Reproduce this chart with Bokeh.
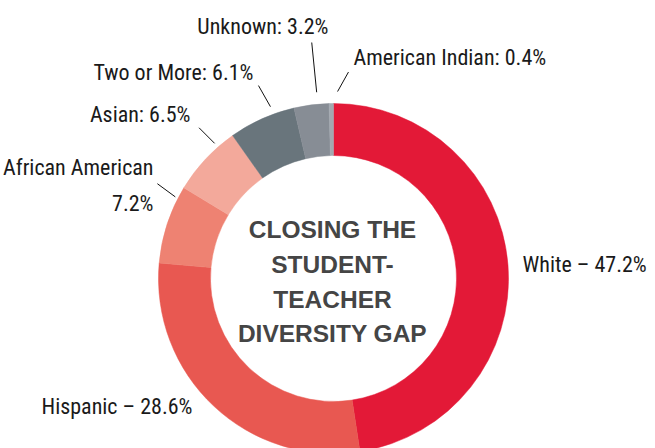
import math
from bokeh.plotting import figure
from bokeh.models import Range1d, ColumnDataSource
from bokeh.core.properties import value
from bokeh.embed import file_html
from bokeh.resources import INLINE

# ---- data ----
categories = ["White", "Hispanic", "African American", "Asian",
              "Two or More", "Unknown", "American Indian"]
percents = [47.2, 28.6, 7.2, 6.5, 6.1, 3.2, 0.4]
colors = ["#E31937", "#E85851", "#EE8272", "#F3A99B",
          "#69757C", "#878D95", "#A3A9B0"]
center_lines = ["CLOSING THE", "STUDENT-", "TEACHER", "DIVERSITY GAP"]

# ---- layout ----
W, H = 655, 448
CX, CY = 333, 278          # donut centre (pixels from top-left)
R_OUT, R_IN = 175, 123
LABEL_FONT = "Roboto Condensed, Open Sans Condensed, DejaVu Sans Condensed"
LABEL_SIZE = "22px"

# label anchors: (x, middle y, align, separator)
label_layout = {
    "White": (522, 264, "left", " – "),
    "Hispanic": (192, 406, "right", " – "),
    "African American": (153, 167, "right", "\n"),
    "Asian": (190, 114, "right", ": "),
    "Two or More": (253, 72, "right", ": "),
    "Unknown": (328, 26, "right", ": "),
    "American Indian": (353, 57, "left", ": "),
}
LINE_GAP = 36
# leader lines: (fraction within slice, inner radius, outer angle offset deg, outer radius)
leader_layout = {
    "African American": (0.85, 178, 1.0, 200),
    "Asian": (0.74, 180, -0.4, 202),
    "Two or More": (0.68, 183, -1.1, 207),
    "Unknown": (0.68, 187, -0.1, 237),
    "American Indian": (1.86, 187, 2.9, 207),
}

total = sum(percents)
starts, ends = [], []
acc = 0.0
for v in percents:
    starts.append(acc / total * 360.0)
    acc += v
    ends.append(acc / total * 360.0)


def to_xy(theta_deg, r):
    t = math.radians(theta_deg)
    return CX + r * math.sin(t), H - (CY - r * math.cos(t))


p = figure(width=W, height=H, x_range=Range1d(0, W), y_range=Range1d(0, H),
           toolbar_location=None, output_backend="svg", min_border=0)
p.axis.visible = False
p.grid.visible = False
p.outline_line_color = None
p.background_fill_color = "white"
p.border_fill_color = "white"

src = ColumnDataSource(dict(
    x=[CX] * len(percents), y=[H - CY] * len(percents),
    start=[math.pi / 2 - math.radians(e) for e in ends],
    end=[math.pi / 2 - math.radians(s) for s in starts],
    color=colors, cat=categories))
p.annular_wedge(x="x", y="y", inner_radius=R_IN, outer_radius=R_OUT,
                start_angle="start", end_angle="end", direction="anticlock",
                fill_color="color", line_color="color", line_width=0.5,
                source=src)

# leader lines
xs, ys = [], []
for i, c in enumerate(categories):
    if c not in leader_layout:
        continue
    frac, rin, doff, rout = leader_layout[c]
    th = starts[i] + frac * (ends[i] - starts[i])
    x0, y0 = to_xy(th, rin)
    x1, y1 = to_xy(th + doff, rout)
    xs.append([x0, x1])
    ys.append([y0, y1])
p.multi_line(xs=xs, ys=ys, line_color="#111111", line_width=1)

# labels
tx, ty, tt, ta = [], [], [], []
for i, c in enumerate(categories):
    x, ym, align, sep = label_layout[c]
    text = f"{c}{sep}{percents[i]}%"
    for k, line in enumerate(text.split("\n")):
        tx.append(x)
        ty.append(H - (ym + k * LINE_GAP))
        tt.append(line)
        ta.append(align)
lsrc = ColumnDataSource(dict(x=tx, y=ty, text=tt, align=ta))
p.text(x="x", y="y", text="text", text_align="align", text_baseline="middle",
       text_font=value(LABEL_FONT), text_font_size=LABEL_SIZE,
       text_color="#1a1a1a", source=lsrc)

# centre title
cy_mid = [229, 264, 299, 333]
p.text(x=[CX - 1] * 4, y=[H - m for m in cy_mid], text=center_lines,
       text_align="center", text_baseline="middle",
       text_font=value("Liberation Sans"), text_font_style="bold",
       text_font_size="24.5px", text_color="#454545")

open("out.html", "w").write(file_html(p, INLINE))
